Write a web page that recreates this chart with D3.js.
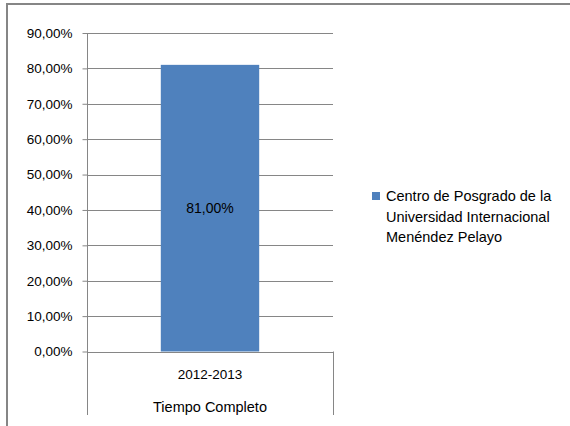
<!DOCTYPE html>
<html><head><meta charset="utf-8">
<script src="https://cdn.jsdelivr.net/npm/d3@7"></script>
<style>body{margin:0;background:#fff}svg{display:block}text{font-family:"Liberation Sans",Arial,sans-serif;fill:#000}</style>
</head><body>
<script>
const categories = ["2012-2013"];
const groupLabel = "Tiempo Completo";
const seriesName = ["Centro de Posgrado de la", "Universidad Internacional", "Menéndez Pelayo"];
const values = [81.0];
const yTicks = [0,10,20,30,40,50,60,70,80,90];

const W=570,H=426;
const svg=d3.select("body").append("svg").attr("width",W).attr("height",H);
svg.append("rect").attr("width",W).attr("height",H).attr("fill","#fff");
// outer frame
svg.append("line").attr("x1",6).attr("x2",W).attr("y1",4).attr("y2",4).attr("stroke","#868686").attr("stroke-width",2);
svg.append("line").attr("x1",7).attr("x2",7).attr("y1",3).attr("y2",H).attr("stroke","#868686").attr("stroke-width",2);

const x0=87,x1=333,yTop=33,yBot=351.5;
const y=d3.scaleLinear().domain([0,90]).range([yBot,yTop]);
const x=d3.scaleBand().domain(categories).range([x0,x1]).paddingInner(0.6).paddingOuter(0.3);
const fmt=v=>v.toFixed(2).replace(".",",")+"%";
const numSize=13.5, txtSize=14.5;

// gridlines
svg.append("g").selectAll("line").data(yTicks).join("line")
  .attr("x1",x0).attr("x2",x1).attr("y1",d=>Math.round(y(d))+0.5).attr("y2",d=>Math.round(y(d))+0.5)
  .attr("stroke","#868686").attr("stroke-width",1);

// bar
svg.append("g").selectAll("rect").data(values).join("rect")
  .attr("x",(d,i)=>x(categories[i])).attr("width",x.bandwidth())
  .attr("y",d=>y(d)).attr("height",d=>y(0)-y(d)).attr("fill","#4f81bd");

// y axis
const ya=svg.append("g").attr("transform",`translate(${x0+0.5},0)`)
  .call(d3.axisLeft(y).tickValues(yTicks).tickFormat(fmt).tickSize(5).tickPadding(10));
ya.select(".domain").attr("stroke","#868686").attr("d",`M0,${yTop}V415`);
ya.selectAll(".tick line").attr("stroke","#868686");
ya.selectAll(".tick text").attr("font-size",numSize).attr("font-family","Liberation Sans, Arial, sans-serif").attr("fill","#000");

// right category boundary
svg.append("line").attr("x1",x1+0.5).attr("x2",x1+0.5).attr("y1",yBot).attr("y2",415).attr("stroke","#868686");

// category labels
const xa=svg.append("g").attr("transform",`translate(0,${yBot})`)
  .call(d3.axisBottom(x).tickSize(0).tickPadding(18));
xa.select(".domain").remove();
xa.selectAll(".tick text").attr("font-size",numSize).attr("font-family","Liberation Sans, Arial, sans-serif").attr("fill","#000");
svg.append("text").attr("x",(x0+x1)/2).attr("y",412).attr("text-anchor","middle").attr("font-size",txtSize).text(groupLabel);

// data label
svg.append("g").selectAll("text").data(values).join("text")
  .attr("x",(d,i)=>x(categories[i])+x.bandwidth()/2).attr("y",d=>(y(d)+y(0))/2+5)
  .attr("text-anchor","middle").attr("font-size",14).text(fmt);

// legend
const lg=svg.append("g");
lg.append("rect").attr("x",372).attr("y",192).attr("width",8).attr("height",8).attr("fill","#4f81bd");
lg.selectAll("text").data(seriesName).join("text").attr("x",386).attr("y",(d,i)=>201+i*20.5).attr("font-size",txtSize).text(d=>d);
</script>
</body></html>
